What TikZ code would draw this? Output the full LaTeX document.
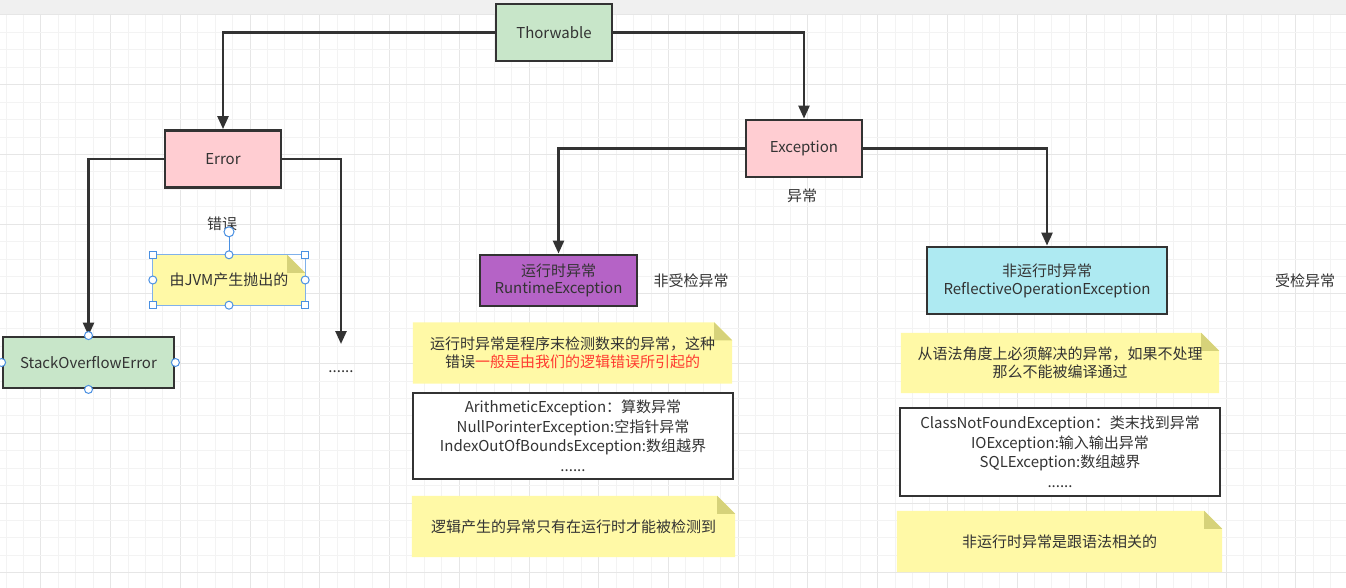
\documentclass[tikz,border=0pt]{standalone}
\usepackage{fontspec}
\setmainfont{Noto Sans CJK SC}
\usetikzlibrary{arrows.meta,calc}
\definecolor{linec}{HTML}{333333}
\definecolor{textc}{HTML}{333333}
\definecolor{greenf}{HTML}{C8E6C9}
\definecolor{pinkf}{HTML}{FFCDD2}
\definecolor{purplef}{HTML}{B563C6}
\definecolor{cyanf}{HTML}{AEEAF2}
\definecolor{notef}{HTML}{FFF9A6}
\definecolor{foldf}{HTML}{D6D27A}
\definecolor{minorg}{HTML}{F3F3F3}
\definecolor{majorg}{HTML}{E6E6E6}
\definecolor{bandc}{HTML}{F0F0F0}
\definecolor{handc}{HTML}{4A90E2}
\definecolor{redt}{HTML}{FF3B30}
\pgfdeclarelayer{gridlayer}
\pgfdeclarelayer{notelayer}
\pgfsetlayers{gridlayer,notelayer,main}
\tikzset{
  txt/.style={text=textc, font=\fontsize{15}{18}\selectfont, inner sep=0pt, align=center},
  box/.style={txt, draw=linec, line width=2.8pt, rectangle},
  notebox/.style={txt},
  arr/.style={draw=linec, line width=2.5pt, -{Triangle[width=11pt,length=13pt]}},
  handle/.style={draw=handc, fill=white, line width=1pt},
  minorline/.style={draw=minorg, line width=1pt},
  majorline/.style={draw=majorg, line width=1pt}
}
\begin{document}
\begin{tikzpicture}[x=1pt,y=-1pt]
\useasboundingbox (0,0) rectangle (1346,588);
\begin{pgfonlayer}{gridlayer}
  \fill[white] (0,0) rectangle (1346,588);
  \foreach \i in {0,...,77} {
    \pgfmathtruncatemacro{\m}{mod(\i,4)}
    \ifnum\m=2 \path[majorline] ({6.1+17.43*\i},14) -- ({6.1+17.43*\i},588);
    \else \path[minorline] ({6.1+17.43*\i},14) -- ({6.1+17.43*\i},588); \fi
  }
  \foreach \j in {0,...,33} {
    \pgfmathtruncatemacro{\m}{mod(\j,4)}
    \ifnum\m=0 \path[majorline] (0,{15+17.43*\j}) -- (1346,{15+17.43*\j});
    \else \path[minorline] (0,{15+17.43*\j}) -- (1346,{15+17.43*\j}); \fi
  }
  \fill[bandc] (0,0) rectangle (1346,14);
\end{pgfonlayer}

% main boxes
\node[box, fill=greenf, minimum width=116pt, minimum height=57pt] (thor) at (554,32.5) {Thorwable};
\node[box, fill=pinkf, minimum width=116pt, minimum height=57pt] (err) at (223,159) {Error};
\node[box, fill=pinkf, minimum width=116pt, minimum height=57pt] (exc) at (804,148.5) {Exception};
\node[box, fill=greenf, minimum width=171pt, minimum height=51pt] (soe) at (88.5,362.5) {StackOverflowError};
\node[box, fill=purplef, minimum width=157pt, minimum height=51pt, font=\fontsize{15}{17.5}\selectfont] (rt) at (558.5,280.5) {运行时异常\\RuntimeException};
\node[box, fill=cyanf, minimum width=240pt, minimum height=67pt, font=\fontsize{15}{18}\selectfont] (refl) at (1047,280.5) {非运行时异常\\ReflectiveOperationException};
\node[box, fill=white, minimum width=320pt, minimum height=86pt, font=\fontsize{15}{19.5}\selectfont] (listl) at (573,436) {ArithmeticException：算数异常\\NullPorinterException:空指针异常\\IndexOutOfBoundsException:数组越界\\......};
\node[box, fill=white, minimum width=320pt, minimum height=88pt, font=\fontsize{15}{19.5}\selectfont] (listr) at (1060,452) {ClassNotFoundException：类末找到异常\\IOException:输入输出异常\\SQLException:数组越界\\......};

% notes
\node[notebox, minimum width=152pt, minimum height=50pt] (jvm) at (229,280) {由JVM产生抛出的};
\node[notebox, minimum width=319pt, minimum height=61pt] (n1) at (572.5,353) {运行时异常是程序末检测数来的异常，这种\\错误\textcolor{redt}{一般是由我们的逻辑错误所引起的}};
\node[notebox, minimum width=323pt, minimum height=61pt] (n2) at (573.5,526.5) {逻辑产生的异常只有在运行时才能被检测到};
\node[notebox, minimum width=318pt, minimum height=60pt] (n3) at (1060,363) {从语法角度上必须解决的异常，如果不处理\\那么不能被编译通过};
\node[notebox, minimum width=325pt, minimum height=61pt] (n4) at (1059.5,541.5) {非运行时异常是跟语法相关的};

\begin{pgfonlayer}{notelayer}
  \foreach \n in {jvm,n1,n2,n3,n4} {
    \fill[notef] (\n.south west) -- (\n.north west) -- ($(\n.north east)+(-18pt,0pt)$) -- ($(\n.north east)+(0pt,-18pt)$) -- (\n.south east) -- cycle;
    \fill[foldf] ($(\n.north east)+(-18pt,0pt)$) -- ($(\n.north east)+(-18pt,-18pt)$) -- ($(\n.north east)+(0pt,-18pt)$) -- cycle;
  }
\end{pgfonlayer}

% free labels
\node[txt] (lbl1) at (802,196) {异常};
\node[txt] (lbl2) at (222,224) {错误};
\node[txt] (lbl3) at (691,281) {非受检异常};
\node[txt] (lbl4) at (1305,281) {受检异常};
\node[txt] (dots) at (341,372) {......};
\coordinate (dotsend) at (341,344);

% connectors
\draw[arr] (thor.west) -| (err.north);
\draw[arr] (thor.east) -| (exc.north);
\draw[arr] (err.west) -| (soe.north);
\draw[arr] (err.east) -| (dotsend);
\draw[arr] (exc.west) -| (rt.north);
\draw[arr] (exc.east) -| (refl.north);

% selection handles
\draw[handc!70, line width=1pt] (jvm.south west) rectangle (jvm.north east);
\draw[handc, line width=1pt] (jvm.north) -- ++(0,-18);
\draw[handle] ($(jvm.north)+(0,-23)$) circle (5);
\foreach \a in {north west, north east, south west, south east}
  \draw[handle] ($(jvm.\a)+(-3.5,-3.5)$) rectangle ++(7,7);
\foreach \a in {north, south, east, west}
  \draw[handle] (jvm.\a) circle (4);
\foreach \a in {north, south, east, west}
  \draw[handle] (soe.\a) circle (4);
\end{tikzpicture}
\end{document}
